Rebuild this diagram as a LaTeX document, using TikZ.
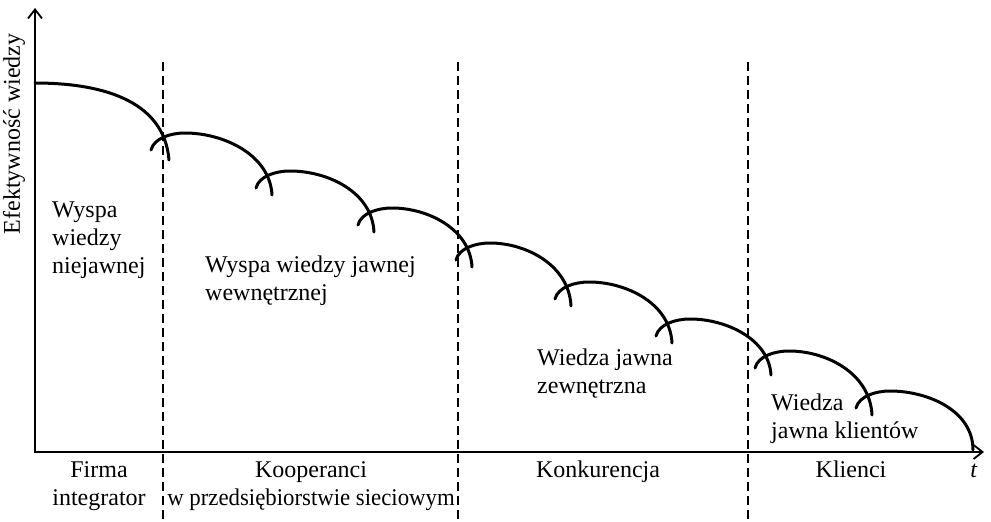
\documentclass[tikz,border=0pt]{standalone}
\usepackage{fontspec}
\setmainfont{Liberation Serif}
\usetikzlibrary{arrows.meta}
\begin{document}
\begin{tikzpicture}[x=1pt,y=-1pt,
  lbl/.style={font=\fontsize{24}{28}\selectfont, inner sep=0pt},
  axis/.style={line width=2.6pt, line join=miter,
    {Straight Barb[length=9pt,width=14pt,line width=1.8pt]}-{Straight Barb[length=9pt,width=14pt,line width=1.8pt]}},
  hump/.style={line width=3pt, line cap=round},
  sep/.style={line width=2pt, dash pattern=on 9pt off 5pt}]
\useasboundingbox (0,0) rectangle (991,522);
% dashed separators
\coordinate (d1t) at (163,62); \coordinate (d1b) at (163,522);
\coordinate (d2t) at (458,62); \coordinate (d2b) at (458,522);
\coordinate (d3t) at (748,62); \coordinate (d3b) at (748,522);
\draw[sep] (d1t) -- (d1b);
\draw[sep] (d2t) -- (d2b);
\draw[sep] (d3t) -- (d3b);
% axes
\coordinate (ytop) at (35,8);
\coordinate (orig) at (35,452);
\coordinate (xend) at (984,452);
\draw[axis] (ytop) -- (orig) -- (xend);
% humps
\draw[hump] (35,83) .. controls +(62,0) and +(-5,-62) .. (169,160);
\draw[hump] (151,150) .. controls +(3,-12) and +(-14,0) .. (185,133) .. controls +(39,0) and +(-2,-40) .. (272,195);
\draw[hump] (256,188) .. controls +(3,-12) and +(-14,0) .. (290,171) .. controls +(38,0) and +(-2,-40) .. (374,232);
\draw[hump] (358,225) .. controls +(3,-12) and +(-14,0) .. (392,208) .. controls +(36,0) and +(-2,-38) .. (472,267);
\draw[hump] (456,260) .. controls +(3,-12) and +(-14,0) .. (490,243) .. controls +(36,0) and +(-2,-41) .. (571,306);
\draw[hump] (555,299) .. controls +(3,-12) and +(-14,0) .. (589,282) .. controls +(37,0) and +(-2,-40) .. (672,343);
\draw[hump] (656,336) .. controls +(3,-12) and +(-14,0) .. (690,319) .. controls +(36,0) and +(-2,-36) .. (771,375);
\draw[hump] (755,368) .. controls +(3,-12) and +(-14,0) .. (789,351) .. controls +(37,0) and +(-2,-42) .. (872,415);
\draw[hump] (856,408) .. controls +(3,-12) and +(-14,0) .. (890,391) .. controls +(37,0) and +(0,-40) .. (973,450);
% axis labels
\node[lbl, rotate=90] (ylab) at (14,134) {Efektywność wiedzy};
\node[lbl, anchor=base] (tlab) at (974,477) {\textit{t}};
% region texts
\node[lbl, anchor=base west] (a1) at (52,217) {Wyspa};
\node[lbl, anchor=base west] (a2) at (52,245) {wiedzy};
\node[lbl, anchor=base west] (a3) at (52,273) {niejawnej};
\node[lbl, anchor=base west] (b1) at (205,272) {Wyspa wiedzy jawnej};
\node[lbl, anchor=base west] (b2) at (205,300) {wewnętrznej};
\node[lbl, anchor=base west] (c1) at (537,365) {Wiedza jawna};
\node[lbl, anchor=base west] (c2) at (537,393) {zewnętrzna};
\node[lbl, anchor=base west] (e1) at (771,410) {Wiedza};
\node[lbl, anchor=base west] (e2) at (771,438) {jawna klientów};
% bottom labels
\node[lbl, anchor=base] (f1) at (99,477) {Firma};
\node[lbl, anchor=base] (f2) at (99,505) {integrator};
\node[lbl, anchor=base] (k1) at (311,477) {Kooperanci};
\node[lbl, anchor=base] (k2) at (311,505) {\scalebox{0.95}[1]{w przedsiębiorstwie sieciowym}};
\node[lbl, anchor=base] (g1) at (598,477) {Konkurencja};
\node[lbl, anchor=base] (h1) at (851,477) {Klienci};
\end{tikzpicture}
\end{document}
